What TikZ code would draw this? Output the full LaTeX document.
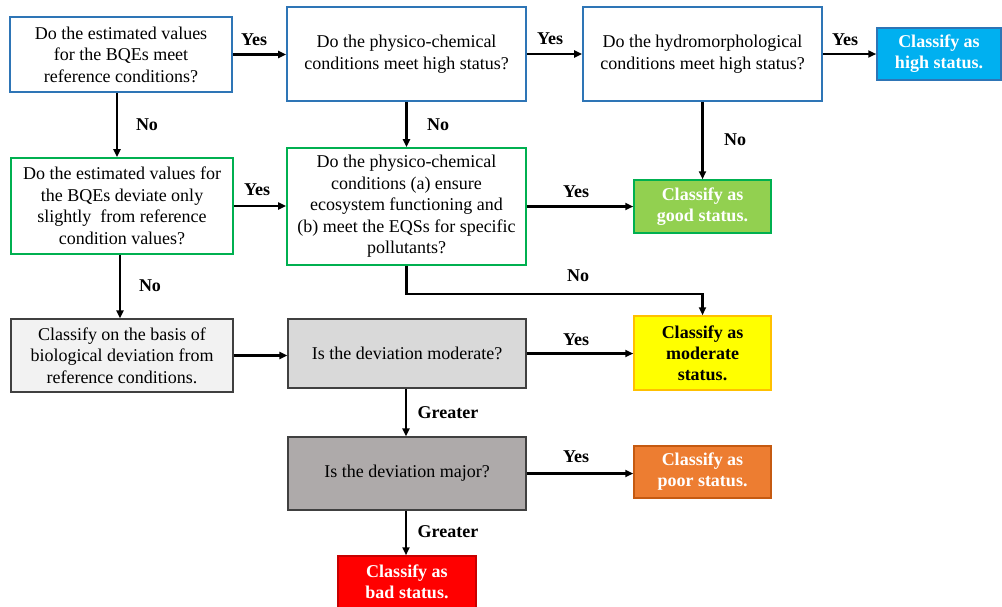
\documentclass[tikz,border=0pt]{standalone}
\usepackage{fontspec}
\setmainfont{Liberation Serif}
\usetikzlibrary{arrows.meta}
\definecolor{bblue}{RGB}{46,117,182}
\definecolor{bgreen}{RGB}{0,176,80}
\definecolor{fhigh}{RGB}{0,176,240}
\definecolor{fgood}{RGB}{146,208,80}
\definecolor{fmod}{RGB}{255,255,0}
\definecolor{bmod}{RGB}{255,192,0}
\definecolor{fpoor}{RGB}{237,125,49}
\definecolor{bpoor}{RGB}{197,90,17}
\definecolor{fbad}{RGB}{255,0,0}
\definecolor{bbad}{RGB}{200,0,0}
\definecolor{fgA}{RGB}{242,242,242}
\definecolor{fgB}{RGB}{217,217,217}
\definecolor{fgC}{RGB}{174,170,170}
\definecolor{bgray}{RGB}{64,64,64}
\tikzset{
  qbox/.style={draw, line width=1.8pt, align=center, inner sep=0pt,
    font=\fontsize{18}{21.5}\selectfont},
  bluebox/.style={qbox, draw=bblue},
  greenbox/.style={qbox, draw=bgreen},
  graybox/.style={qbox, draw=bgray, line width=1.2pt},
  resbox/.style={qbox, line width=1.5pt, font=\fontsize{18}{21}\selectfont\bfseries, text=white},
  arr/.style={line width=2.4pt, -{Triangle[length=8pt,width=7pt]}},
  lbl/.style={font=\fontsize{18}{21}\selectfont\bfseries, inner sep=0pt}
}
\begin{document}
\begin{tikzpicture}[x=1pt,y=-1pt]
\useasboundingbox (0,0) rectangle (1002,606);
% row 1
\node[bluebox, minimum width=222, minimum height=75] (b1) at (121,54.5) {Do the estimated values\\for the BQEs meet\\reference conditions?};
\node[bluebox, minimum width=239, minimum height=94] (b2) at (406.5,54) {Do the physico-chemical\\conditions meet high status?};
\node[bluebox, minimum width=239, minimum height=94] (b3) at (702.5,54) {Do the hydromorphological\\conditions meet high status?};
\node[resbox, draw=bblue, fill=fhigh, minimum width=124, minimum height=52] (b4) at (939,54) {Classify as\\high status.};
% row 2
\node[greenbox, minimum width=222, minimum height=96] (g1) at (122,206) {Do the estimated values for\\the BQEs deviate only\\slightly\ \ from reference\\condition values?};
\node[greenbox, minimum width=239, minimum height=117] (g2) at (406.5,206.5) {Do the physico-chemical\\conditions (a) ensure\\ecosystem functioning and\\(b) meet the EQSs for specific\\pollutants?};
\node[resbox, draw=bgreen, fill=fgood, minimum width=137, minimum height=53] (g3) at (702.5,206.5) {Classify as\\good status.};
% row 3
\node[graybox, fill=fgA, minimum width=222, minimum height=73] (c1) at (122,355.5) {Classify on the basis of\\biological deviation from\\reference conditions.};
\node[graybox, fill=fgB, minimum width=238, minimum height=69] (c2) at (407,353.5) {Is the deviation moderate?};
\node[resbox, draw=bmod, fill=fmod, text=black, minimum width=137, minimum height=74] (c3) at (702.5,353) {Classify as\\moderate\\status.};
% row 4
\node[graybox, fill=fgC, minimum width=238, minimum height=73] (d1) at (407,473.5) {Is the deviation major?};
\node[resbox, draw=bpoor, fill=fpoor, minimum width=137, minimum height=52] (d2) at (702.5,472) {Classify as\\poor status.};
\node[resbox, draw=bbad, fill=fbad, minimum width=138, minimum height=52] (d3) at (407,582) {Classify as\\bad status.};
% connectors
\draw[arr] (b1.east) -- (b2.west |- b1.east);
\draw[arr] (b2.east) -- (b3.west);
\draw[arr] (b3.east) -- (b4.west);
\draw[arr] ([xshift=-4pt]b1.south) -- ([xshift=-4pt]b1.south |- g1.north);
\draw[arr] (b2.south) -- (g2.north);
\draw[arr] (b3.south) -- (g3.north);
\draw[arr] (g1.east) -- (g2.west |- g1.east);
\draw[arr] (g2.east) -- (g3.west);
\draw[arr] (g2.south) -- ++(0,28) -| (c3.north);
\draw[arr] ([xshift=-2pt]g1.south) -- ([xshift=-2pt]g1.south |- c1.north);
\draw[arr] (c1.east) -- (c2.west |- c1.east);
\draw[arr] (c2.east) -- (c2.east -| c3.west);
\draw[arr] ([xshift=-1pt]c2.south) -- ([xshift=-1pt]d1.north);
\draw[arr] (d1.east) -- (d1.east -| d2.west);
\draw[arr] ([xshift=-1pt]d1.south) -- ([xshift=-1pt]d3.north);
% labels
\node[lbl] (l1) at (254,40) {Yes};
\node[lbl] (l2) at (550,39) {Yes};
\node[lbl] (l3) at (845,40) {Yes};
\node[lbl] (l4) at (147,125) {No};
\node[lbl] (l5) at (438,125) {No};
\node[lbl] (l6) at (735,140) {No};
\node[lbl] (l7) at (257,190) {Yes};
\node[lbl] (l8) at (576,192) {Yes};
\node[lbl] (l9) at (578,276) {No};
\node[lbl] (l10) at (150,286) {No};
\node[lbl] (l11) at (576,340) {Yes};
\node[lbl] (l12) at (448,413) {Greater};
\node[lbl] (l13) at (576,457) {Yes};
\node[lbl] (l14) at (448,532) {Greater};
\end{tikzpicture}
\end{document}
